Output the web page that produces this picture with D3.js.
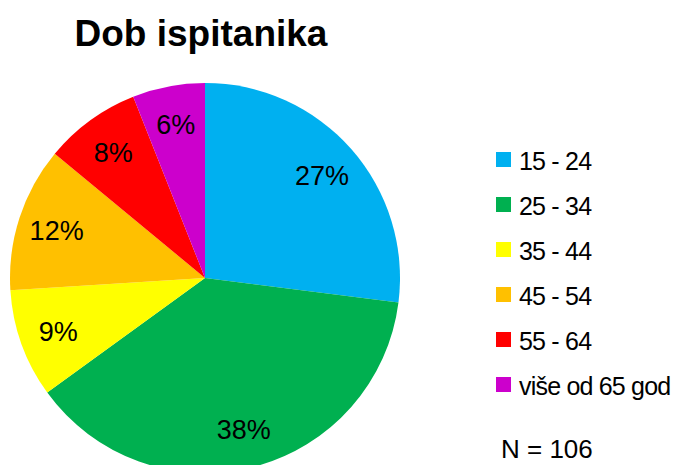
<!DOCTYPE html>
<html>
<head>
<meta charset="utf-8">
<script src="https://cdn.jsdelivr.net/npm/d3@7"></script>
<style>
  body { margin: 0; background: #fff; }
  svg { display: block; font-family: "Liberation Sans", Arial, sans-serif; }
</style>
</head>
<body>
<div id="pie"></div>
<script>
// age groups and their share (%), N = 106
var categories = ["15 - 24", "25 - 34", "35 - 44", "45 - 54", "55 - 64", "više od 65 god"];
var values = [27, 38, 9, 12, 8, 6];
var colors = ["#00B0F0", "#00B050", "#FFFF00", "#FFC000", "#FF0000", "#CC00CC"];
var title = "Dob ispitanika";
var note = "N = 106";

var width = 676, height = 465;
var cx = 205, cy = 278, radius = 195;

var svg = d3.select("#pie")
  .append("svg")
  .attr("width", width)
  .attr("height", height);

svg.append("text")
  .attr("x", 201)
  .attr("y", 46)
  .attr("text-anchor", "middle")
  .style("font-size", "37px")
  .style("font-weight", "bold")
  .text(title);

var data = categories.map(function (c, i) { return { name: c, value: values[i], color: colors[i] }; });

var pie = d3.pie()
  .sort(null)
  .value(function (d) { return d.value; });

var arc = d3.arc().innerRadius(0).outerRadius(radius);
var labelArc = d3.arc().innerRadius(radius * 0.8).outerRadius(radius * 0.8);

var g = svg.append("g")
  .attr("transform", "translate(" + cx + "," + cy + ")");

g.selectAll("path")
  .data(pie(data))
  .enter()
  .append("path")
  .attr("d", arc)
  .attr("fill", function (d) { return d.data.color; });

g.selectAll("text")
  .data(pie(data))
  .enter()
  .append("text")
  .attr("transform", function (d) { return "translate(" + labelArc.centroid(d) + ")"; })
  .attr("text-anchor", "middle")
  .attr("dy", "0.36em")
  .style("font-size", "27px")
  .text(function (d) { return d.data.value + "%"; });

// legend
var legend = svg.append("g")
  .attr("transform", "translate(496,152)");

var row = legend.selectAll("g")
  .data(data)
  .enter()
  .append("g")
  .attr("transform", function (d, i) { return "translate(0," + i * 45 + ")"; });

row.append("rect")
  .attr("width", 15)
  .attr("height", 15)
  .attr("fill", function (d) { return d.color; });

row.append("text")
  .attr("x", 23)
  .attr("y", 18)
  .style("font-size", "25px")
  .style("letter-spacing", "-0.8px")
  .text(function (d) { return d.name; });

svg.append("text")
  .attr("x", 501)
  .attr("y", 458)
  .style("font-size", "26px")
  .text(note);
</script>
</body>
</html>
